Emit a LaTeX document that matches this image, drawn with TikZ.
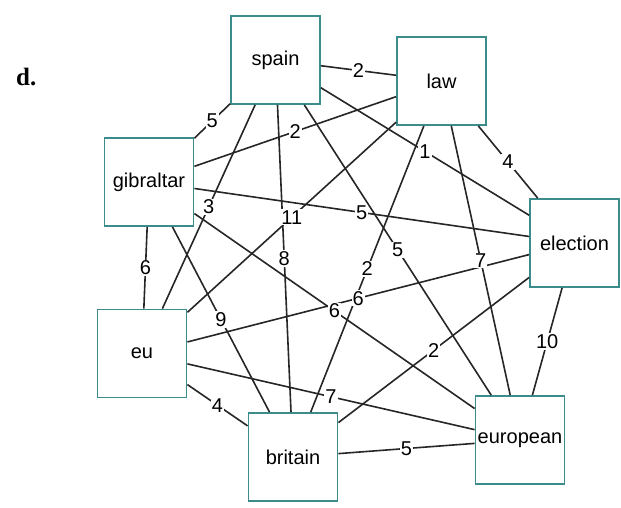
\documentclass[tikz,border=0pt]{standalone}
\usepackage{fontspec}
\setmainfont{Liberation Sans}
\newfontfamily\titleserif{Liberation Serif}
\definecolor{boxteal}{RGB}{60,140,140}
\begin{document}
\begin{tikzpicture}[x=1pt,y=-1pt,
  wbox/.style={draw=boxteal, line width=1.8pt, fill=white, minimum width=89pt, minimum height=88pt, inner sep=0pt, font=\fontsize{20}{24}\selectfont},
  edgeline/.style={draw=black!85, line width=1.6pt},
  wlabel/.style={fill=white, inner sep=1pt, font=\fontsize{20}{24}\selectfont}]
\useasboundingbox (0,0) rectangle (621,508);
\node[font=\titleserif\bfseries\fontsize{25}{30}\selectfont, anchor=base west, inner sep=0pt] (title) at (16,86) {d.};
\node[wbox] (S) at (275.5,60) {spain};
\node[wbox] (L) at (441.5,81) {law};
\node[wbox] (G) at (149,182) {gibraltar};
\node[wbox] (E) at (574.5,243) {election};
\node[wbox] (U) at (142,353.5) {eu};
\node[wbox] (B) at (293,457) {britain};
\node[wbox] (P) at (520,440) {european};
\foreach \a/\b/\w in {S/L/2, S/G/5, S/E/1, S/U/3, S/B/8, S/P/5, L/G/2, L/E/4, L/U/11, L/B/2, L/P/7, G/E/5, G/U/6, G/B/9, G/P/6, E/U/6, E/B/2, E/P/10, U/B/4, U/P/7, B/P/5}
  \draw[edgeline] (\a) -- (\b);
\foreach \a/\b/\w in {S/L/2, S/G/5, S/E/1, S/U/3, S/B/8, S/P/5, L/G/2, L/E/4, L/U/11, L/B/2, L/P/7, G/E/5, G/U/6, G/B/9, G/P/6, E/U/6, E/B/2, E/P/10, U/B/4, U/P/7, B/P/5}
  \path (\a) -- (\b) node[wlabel, midway] (lab\a\b) {\w};
\end{tikzpicture}
\end{document}
